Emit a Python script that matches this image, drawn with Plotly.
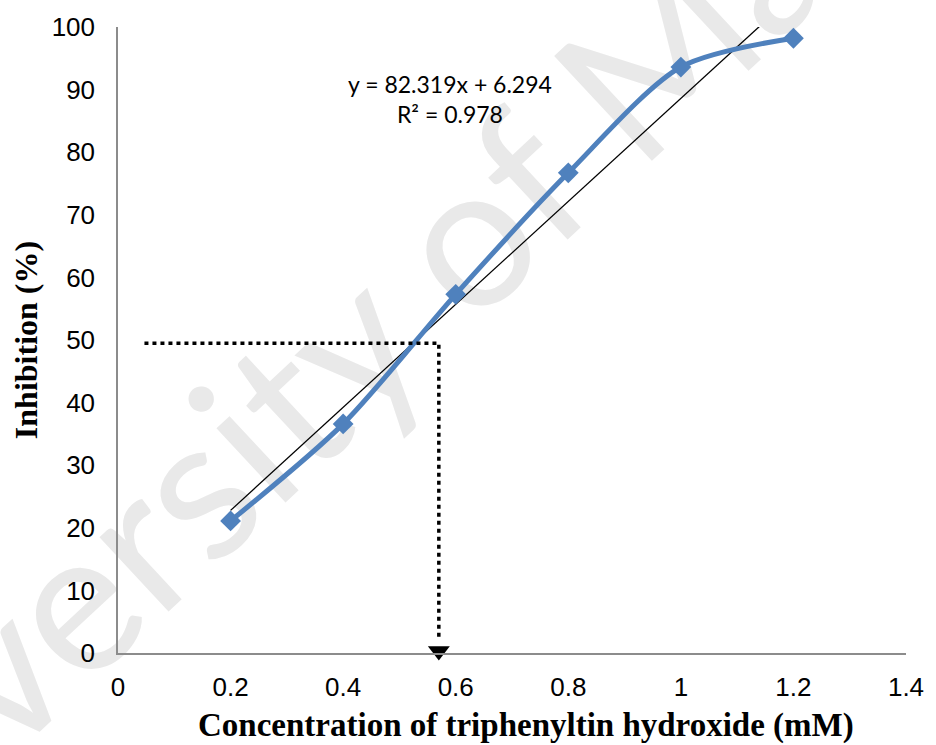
import numpy as np
import plotly.graph_objects as go

# ---- data ----
concentration = [0.2, 0.4, 0.6, 0.8, 1.0, 1.2]
inhibition = [21.1, 36.6, 57.3, 76.7, 93.6, 98.2]
equation_text = "y = 82.319x + 6.294<br>R² = 0.978"
guide_x = [0.047, 0.57, 0.57]
guide_y = [49.5, 49.5, 2.0]
arrow_x = [0.57]
arrow_y = [0.3]
x_ticks = [0, 0.2, 0.4, 0.6, 0.8, 1.0, 1.2, 1.4]
x_tick_labels = ["0", "0.2", "0.4", "0.6", "0.8", "1", "1.2", "1.4"]
y_ticks = [0, 10, 20, 30, 40, 50, 60, 70, 80, 90, 100]
x_title = "<b>Concentration of triphenyltin hydroxide (mM)</b>"
y_title = "<b>Inhibition (%)</b>"

# linear trendline from the data
slope, intercept = np.polyfit(concentration, inhibition, 1)
trend_x = np.linspace(min(concentration), max(concentration), 50)
trend_y = slope * trend_x + intercept

fig = go.Figure()

fig.add_trace(go.Scatter(
    x=trend_x, y=trend_y, mode="lines",
    line=dict(color="black", width=1.3), hoverinfo="skip", showlegend=False))

fig.add_trace(go.Scatter(
    x=concentration, y=inhibition, mode="lines+markers",
    line=dict(color="#4F81BD", width=5, shape="spline", smoothing=0.8),
    marker=dict(symbol="diamond", size=16, color="#4F81BD"),
    showlegend=False))

fig.add_trace(go.Scatter(
    x=guide_x, y=guide_y, mode="lines",
    line=dict(color="black", width=3.5, dash="4px,4px"),
    hoverinfo="skip", showlegend=False))

# arrow head at the bottom of the vertical guide
fig.add_trace(go.Scatter(
    x=arrow_x, y=arrow_y, mode="markers",
    marker=dict(symbol="triangle-down", size=19, color="black",
                line=dict(width=0)),
    cliponaxis=False, hoverinfo="skip", showlegend=False))

# watermark (below data)
fig.add_shape(
    type="rect", xref="paper", yref="paper",
    x0=0.341 - 0.75, x1=0.341 + 0.75, y0=0.566 - 0.85, y1=0.566 + 0.85,
    line=dict(width=0), fillcolor="rgba(0,0,0,0)", layer="below",
    label=dict(text="University of Malaya", textangle=-43,
               font=dict(family="Lato", size=200, color="#e9e9e9"),
               textposition="middle center"))

fig.add_annotation(
    x=0.589, y=88.5, xref="x", yref="y", text=equation_text, showarrow=False,
    font=dict(family="Lato", size=23, color="black"), align="center")

# x-axis title
fig.add_annotation(
    x=0.5176, y=-0.1166, xref="paper", yref="paper", text=x_title,
    showarrow=False, xanchor="center", yanchor="middle",
    font=dict(family="Liberation Serif", size=33, color="black"))

fig.update_layout(
    width=936, height=745,
    margin=dict(l=118, r=22, t=27, b=92),
    paper_bgcolor="white", plot_bgcolor="white",
    xaxis=dict(
        range=[0, 1.4], tickvals=x_ticks, ticktext=x_tick_labels,
        showgrid=False, zeroline=False, showline=True,
        linecolor="#8c8c8c", linewidth=1.5, ticks="",
        ticklabelstandoff=10,
        tickfont=dict(family="Liberation Sans", size=26, color="black")),
    yaxis=dict(
        range=[0, 100], tickvals=y_ticks,
        showgrid=False, zeroline=False, showline=True,
        linecolor="#8c8c8c", linewidth=1.5, ticks="",
        ticklabelstandoff=16,
        tickfont=dict(family="Liberation Sans", size=26, color="black"),
        title=dict(text=y_title,
                   font=dict(family="Liberation Serif", size=32, color="black"),
                   standoff=4)),
)

fig.write_html("out.html")
